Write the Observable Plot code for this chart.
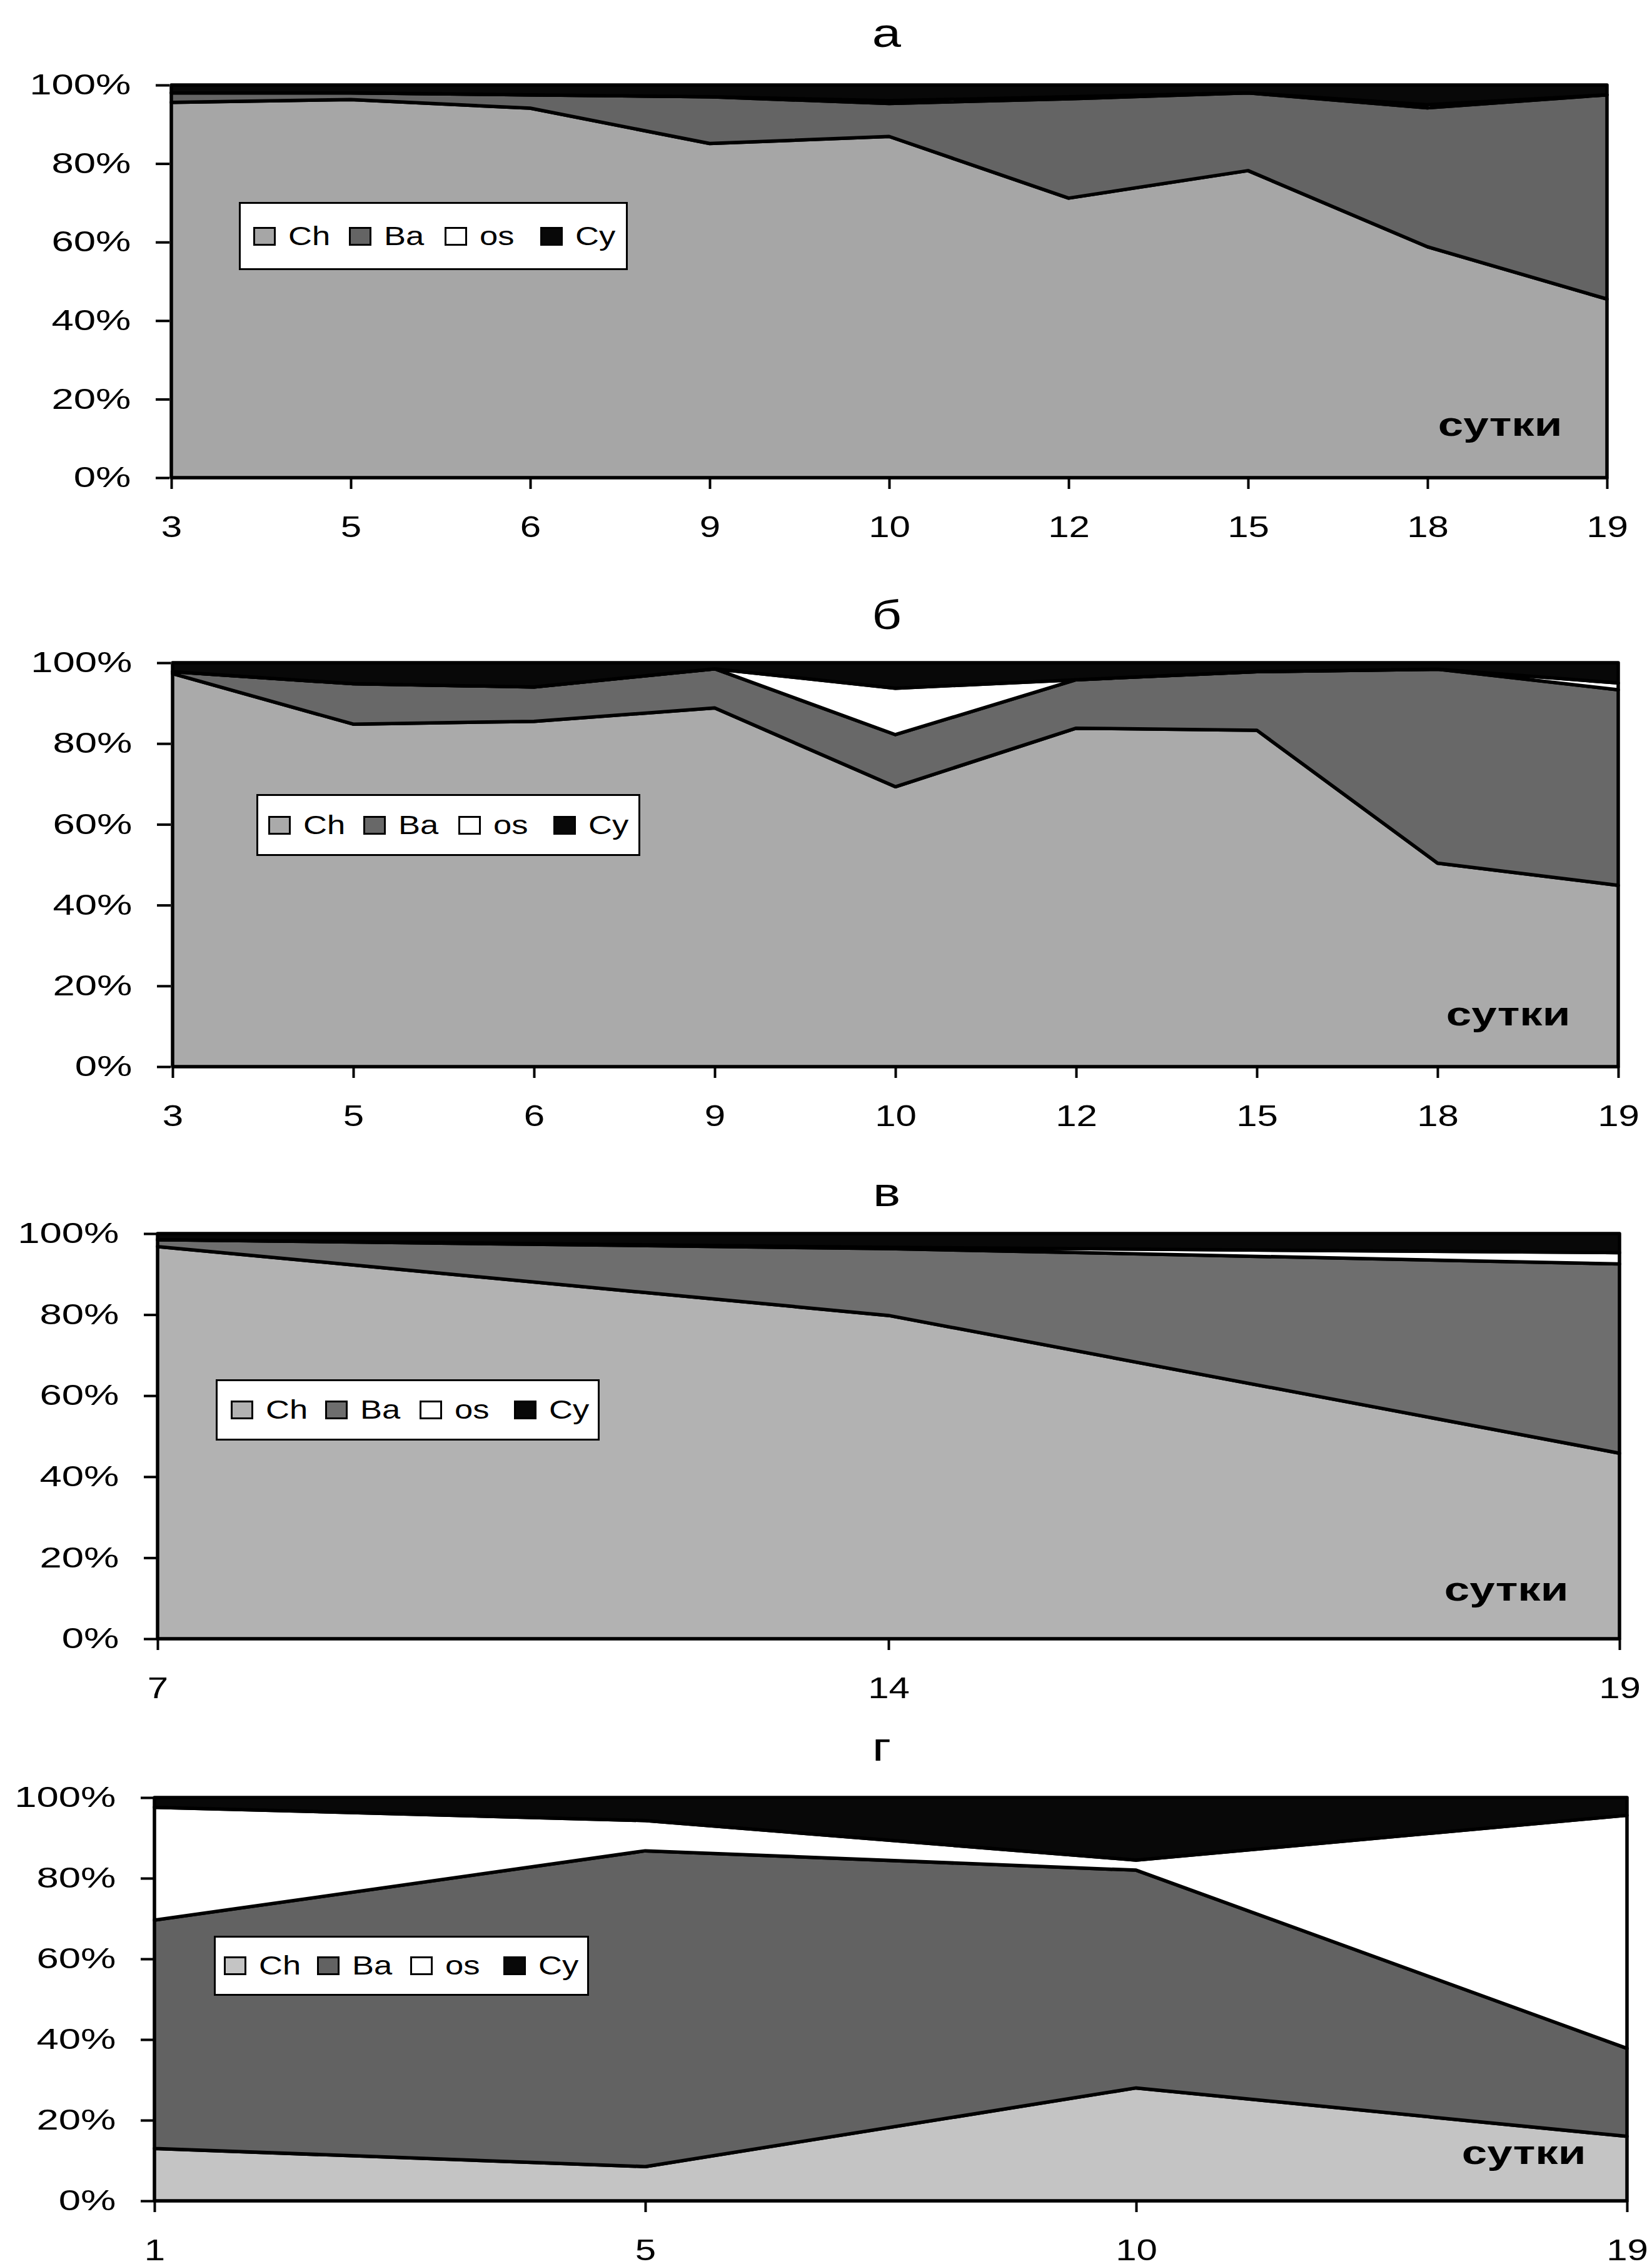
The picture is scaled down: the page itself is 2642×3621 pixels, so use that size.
<!DOCTYPE html>
<html>
<head>
<meta charset="utf-8">
<script src="https://cdn.jsdelivr.net/npm/d3@7"></script>
<script src="https://cdn.jsdelivr.net/npm/@observablehq/plot@0.6"></script>
<style>
  html, body { margin: 0; padding: 0; background: #fff; }
  body { width: 2642px; height: 3621px; position: relative; overflow: hidden;
         font-family: "Liberation Sans", Arial, sans-serif; color: #000; }
  .panel { position: absolute; left: 0; width: 2642px; }
  .title { position: absolute; font-size: 64px; line-height: 1; white-space: nowrap;
           transform: translateX(-50%) scaleX(1.3); transform-origin: center; }
  .legend { position: absolute; background: #fff; border: 3px solid #000; box-sizing: border-box;
            overflow: hidden; }
  .item { position: absolute; top: 50%; height: 30px; transform: translateY(-50%); }
  .sw { position: absolute; left: 0; top: 0; width: 36px; height: 30px; border: 3px solid #000;
        box-sizing: border-box; }
  .lt { position: absolute; left: 56px; top: 50%; font-size: 42px; line-height: 1; white-space: nowrap;
        transform: translateY(-50%) scaleX(1.25); transform-origin: left center; }
</style>
</head>
<body>
<script>
// ---------- data ----------
const seriesNames = ["Ch", "Ba", "os", "Cy"];

// panel а
const daysA = ["3", "5", "6", "9", "10", "12", "15", "18", "19"];
const chA = [95.6, 96.3, 94.1, 85.1, 86.9, 71.2, 78.2, 58.8, 45.5];
const baA = [2.4, 1.7, 3.4, 11.9, 8.4, 25.3, 19.8, 35.4, 52.0];
const osA = [0, 0, 0, 0, 0.7, 0.5, 0, 0.8, 0];
const cyA = [2.0, 2.0, 2.5, 3.0, 4.0, 3.0, 2.0, 5.0, 2.5];

// panel б
const daysB = ["3", "5", "6", "9", "10", "12", "15", "18", "19"];
const chB = [97.3, 84.8, 85.5, 88.8, 69.3, 83.8, 83.3, 50.4, 44.9];
const baB = [0.5, 10.0, 8.5, 9.7, 12.9, 12.0, 14.5, 48.0, 48.4];
const osB = [0, 0, 0, 0, 11.5, 0, 0, 0, 1.7];
const cyB = [2.2, 5.2, 6.0, 1.5, 6.3, 4.2, 2.2, 1.6, 5.0];

// panel в
const daysV = ["7", "14", "19"];
const chV = [96.8, 79.8, 45.8];
const baV = [1.7, 16.5, 46.7];
const osV = [0, 0.3, 2.8];
const cyV = [1.5, 3.4, 4.7];

// panel г
const daysG = ["1", "5", "10", "19"];
const chG = [13.0, 8.5, 28.0, 16.0];
const baG = [56.6, 78.3, 54.0, 21.8];
const osG = [28.0, 7.5, 2.5, 57.8];
const cyG = [2.4, 5.7, 15.5, 4.4];

const titles = ["а", "б", "в", "г"];
const axisLabel = "сутки";

// ---------- layout / style ----------
const panelData = [
  {days: daysA, ch: chA, ba: baA, os: osA, cy: cyA},
  {days: daysB, ch: chB, ba: baB, os: osB, cy: cyB},
  {days: daysV, ch: chV, ba: baV, os: osV, cy: cyV},
  {days: daysG, ch: chG, ba: baG, os: osG, cy: cyG}
];
const layout = [
  {left: 271, right: 2573, top: 136, bottom: 764, titleX: 1418, titleBase: 75,
   legend: {left: 382, top: 323, width: 622, height: 109, pad: 20, step: 153},
   colors: ["#a6a6a6", "#646464", "#ffffff", "#080808"], sutki: {dx: -75, dy: -84}},
  {left: 273, right: 2591, top: 1060, bottom: 1706, titleX: 1418, titleBase: 1006,
   legend: {left: 410, top: 1270, width: 614, height: 99, pad: 16, step: 152},
   colors: ["#aaaaaa", "#686868", "#ffffff", "#080808"], sutki: {dx: -80, dy: -83}},
  {left: 252, right: 2590, top: 1973, bottom: 2621, titleX: 1418, titleBase: 1929,
   legend: {left: 345, top: 2206, width: 614, height: 98, pad: 21, step: 151},
   colors: ["#b2b2b2", "#6e6e6e", "#ffffff", "#080808"], sutki: {dx: -82, dy: -78}},
  {left: 247, right: 2602, top: 2875, bottom: 3520, titleX: 1410, titleBase: 2816,
   legend: {left: 342, top: 3096, width: 600, height: 96, pad: 13, step: 149},
   colors: ["#c4c4c4", "#626262", "#ffffff", "#080808"], sutki: {dx: -66, dy: -76}}
];

const W = 2642, MT = 20, MB = 100;

function stretch(el, sx) {
  const x = +el.getAttribute("x") || 0;
  const t = el.getAttribute("transform") || "";
  el.setAttribute("x", 0);
  el.setAttribute("transform", `${t} translate(${x},0) scale(${sx},1)`);
}

panelData.forEach((d, p) => {
  const L = layout[p];
  const rows = [];
  d.days.forEach((day, i) => {
    const vals = [d.ch[i], d.ba[i], d.os[i], d.cy[i]];
    seriesNames.forEach((s, k) => rows.push({day, series: s, value: vals[k]}));
  });
  const plotH = L.bottom - L.top;
  const svg = Plot.plot({
    width: W,
    height: MT + plotH + MB,
    marginTop: MT, marginBottom: MB,
    marginLeft: L.left, marginRight: W - L.right,
    style: {fontFamily: "'Liberation Sans', Arial, sans-serif", fontSize: "48px", color: "#000",
            background: "transparent", overflow: "visible"},
    x: {type: "point", domain: d.days, padding: 0, label: null, tickSize: 18, tickPadding: 42},
    y: {domain: [0, 1], ticks: [0, 0.2, 0.4, 0.6, 0.8, 1], tickFormat: d3.format(".0%"),
        label: null, tickSize: 22, tickPadding: 40},
    color: {domain: seriesNames, range: L.colors},
    marks: [
      Plot.areaY(rows, Plot.stackY({x: "day", y: "value", z: "series", fill: "series",
        order: seriesNames, offset: "normalize", stroke: "#000", strokeWidth: 5.5, strokeLinejoin: "round"})),
      Plot.text([axisLabel], {frameAnchor: "bottom-right", text: t => t, dx: L.sutki.dx, dy: L.sutki.dy,
        textAnchor: "end", lineAnchor: "middle", fontWeight: "bold", fontSize: 52})
    ]
  });

  // axis styling: heavier ticks, horizontally stretched labels (as in the scanned original)
  d3.select(svg).selectAll("g").each(function() {
    const lab = this.getAttribute("aria-label") || "";
    if (lab.includes("x-axis")) {
      d3.select(this).selectAll("text").each(function() { stretch(this, 1.25); });
      d3.select(this).selectAll("path, line").attr("stroke-width", 4).attr("stroke", "#000");
    } else if (lab.includes("y-axis")) {
      d3.select(this).selectAll("text").attr("font-size", 46).each(function() { stretch(this, 1.38); });
      d3.select(this).selectAll("path, line").attr("stroke-width", 4).attr("stroke", "#000");
    } else if (lab === "text") {
      d3.select(this).selectAll("text").each(function() { stretch(this, 1.4); });
    }
  });

  const panel = document.createElement("div");
  panel.className = "panel";
  panel.style.top = (L.top - MT) + "px";
  panel.appendChild(svg);
  document.body.appendChild(panel);

  const title = document.createElement("div");
  title.className = "title";
  title.textContent = titles[p];
  title.style.left = L.titleX + "px";
  title.style.top = (L.titleBase - 0.8465 * 64) + "px";
  document.body.appendChild(title);

  const lg = document.createElement("div");
  lg.className = "legend";
  Object.assign(lg.style, {left: L.legend.left + "px", top: L.legend.top + "px",
    width: L.legend.width + "px", height: L.legend.height + "px"});
  seriesNames.forEach((s, k) => {
    const item = document.createElement("div");
    item.className = "item";
    item.style.left = (L.legend.pad + k * L.legend.step) + "px";
    const sw = document.createElement("div");
    sw.className = "sw";
    sw.style.background = L.colors[k];
    const tx = document.createElement("span");
    tx.className = "lt";
    tx.textContent = s;
    item.appendChild(sw);
    item.appendChild(tx);
    lg.appendChild(item);
  });
  document.body.appendChild(lg);
});
</script>
</body>
</html>
